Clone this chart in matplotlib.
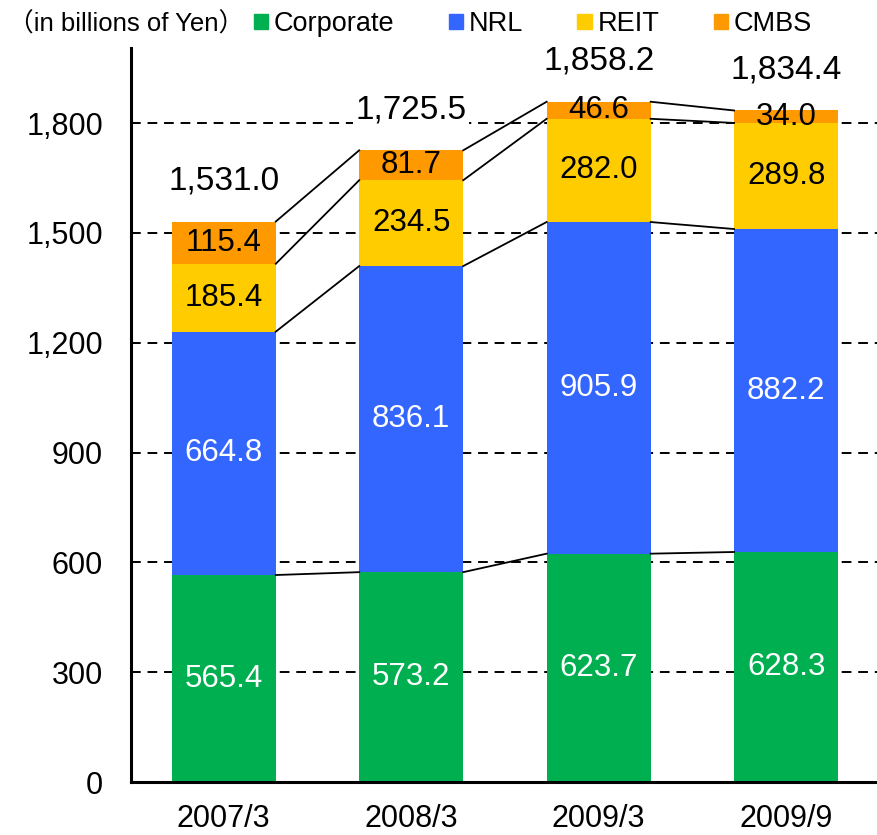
import matplotlib
matplotlib.use('Agg')
import matplotlib.pyplot as plt
import matplotlib.patches as mpatches
import numpy as np

plt.rcParams['font.family'] = ['Liberation Sans', 'Noto Sans CJK JP', 'DejaVu Sans']

# data (in billions of Yen)
periods = ['2007/3', '2008/3', '2009/3', '2009/9']
corporate = [565.4, 573.2, 623.7, 628.3]
nrl = [664.8, 836.1, 905.9, 882.2]
reit = [185.4, 234.5, 282.0, 289.8]
cmbs = [115.4, 81.7, 46.6, 34.0]
totals = [1531.0, 1725.5, 1858.2, 1834.4]

series = [('Corporate', corporate, '#00B050', 'white'),
          ('NRL', nrl, '#3366FF', 'white'),
          ('REIT', reit, '#FFCC00', 'black'),
          ('CMBS', cmbs, '#FF9900', 'black')]

fig = plt.figure(figsize=(8.77, 8.35), dpi=100)
ax = fig.add_axes([131 / 877, 53 / 835, 746 / 877, 734 / 835])

x = np.arange(len(periods))
w = 0.555
bottom = np.zeros(len(periods))
tops = []
handles = []
for name, vals, color, tcolor in series:
    vals = np.array(vals)
    ax.bar(x, vals, w, bottom=bottom, color=color, zorder=2)
    for xi, b, v in zip(x, bottom, vals):
        ax.text(xi, b + v / 2, f'{v:.1f}', ha='center', va='center',
                fontsize=22.5, color=tcolor, zorder=4)
    bottom = bottom + vals
    tops.append(bottom.copy())
    handles.append(mpatches.Patch(color=color, label=name))

# connector lines between bars
for top in tops:
    for i in range(len(periods) - 1):
        ax.plot([x[i] + w / 2, x[i + 1] - w / 2], [top[i], top[i + 1]],
                color='black', lw=1.3, zorder=3)

# totals above bars
for xi, t in zip(x, totals):
    ax.annotate(f'{t:,.1f}', (xi, t), xytext=(0, 29), textcoords='offset points',
                ha='center', va='center', fontsize=24, zorder=5,
                bbox=dict(facecolor='white', edgecolor='none', pad=2))

ax.set_xlim(-0.495, 3.485)
ax.set_ylim(0, 2005)
ax.set_yticks(np.arange(0, 1801, 300))
ax.set_yticklabels([f'{v:,}' for v in range(0, 1801, 300)])
ax.set_xticks(x)
ax.set_xticklabels(periods)
ax.tick_params(axis='both', length=0, labelsize=22)
ax.tick_params(axis='y', pad=20)
ax.tick_params(axis='x', pad=16)
ax.yaxis.grid(True, color='black', linestyle=(0, (5, 3.5)), lw=1.4, zorder=1)
ax.set_axisbelow(True)
for s in ['top', 'right']:
    ax.spines[s].set_visible(False)
ax.spines['left'].set_linewidth(2.2)
ax.spines['bottom'].set_linewidth(2.2)

fig.text(8 / 877, 1 - 24 / 835, '（in billions of Yen）', ha='left', va='center',
         fontsize=18.5)
fig.legend(handles=handles, loc='center left', bbox_to_anchor=(254 / 877, 1 - 24 / 835),
           ncol=4, frameon=False, fontsize=19.5, handlelength=0.52, handleheight=0.52,
           handletextpad=0.22, columnspacing=2.0, borderpad=0, borderaxespad=0)

fig.savefig('out.png', dpi=100)
